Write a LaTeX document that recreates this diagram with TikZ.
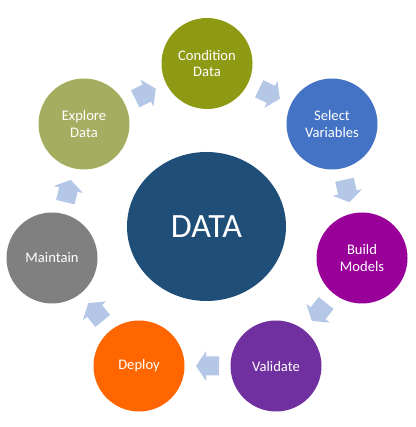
\documentclass[tikz,border=0pt]{standalone}
\usepackage{fontspec}
\setmainfont{Carlito}
\usetikzlibrary{shapes.geometric}
\definecolor{cdata}{HTML}{1F4E79}
\definecolor{ccond}{HTML}{8E9A14}
\definecolor{csel}{HTML}{4472C4}
\definecolor{cbuild}{HTML}{990099}
\definecolor{cval}{HTML}{7030A0}
\definecolor{cdep}{HTML}{FF6600}
\definecolor{cmain}{HTML}{808080}
\definecolor{cexp}{HTML}{A5AE60}
\definecolor{carrow}{HTML}{B4C7E7}
\begin{document}
\begin{tikzpicture}[x=1pt,y=1pt,
  stage/.style={circle, minimum size=91pt, inner sep=0pt, text=white, align=center,
    font=\fontsize{14.6}{16.7}\selectfont},
  barrow/.pic={\fill[carrow] (-11.5,-9.5) -- (1.5,-9.5) -- (1.5,-15) -- (11.5,0) -- (1.5,15) -- (1.5,9.5) -- (-11.5,9.5) -- cycle;}
]
\useasboundingbox (0,0) rectangle (415,427);
\node[ellipse, fill=cdata, minimum width=159pt, minimum height=149pt, inner sep=0pt, text=white, font=\fontsize{34}{40}\selectfont] (D) at (206.5,{427-226.5}) {DATA};
\node[stage, fill=ccond] (C) at (207,{427-63.5}) {Condition\\Data};
\node[stage, fill=csel] (S) at (332,{427-124}) {Select\\Variables};
\node[stage, fill=cbuild] (B) at (362,{427-258}) {Build\\Models};
\node[stage, fill=cval] (V) at (276,{427-366}) {Validate};
\node[stage, fill=cdep] (P) at (139,{427-366}) {Deploy};
\node[stage, fill=cmain] (M) at (52,{427-258}) {Maintain};
\node[stage, fill=cexp] (E) at (84,{427-124}) {Explore\\Data};
\foreach \a/\b in {E/C, C/S, S/B, B/V, V/P, P/M, M/E}
  \path (\a.center) -- (\b.center) pic[pos=0.5, sloped, allow upside down] {barrow};
\end{tikzpicture}
\end{document}
